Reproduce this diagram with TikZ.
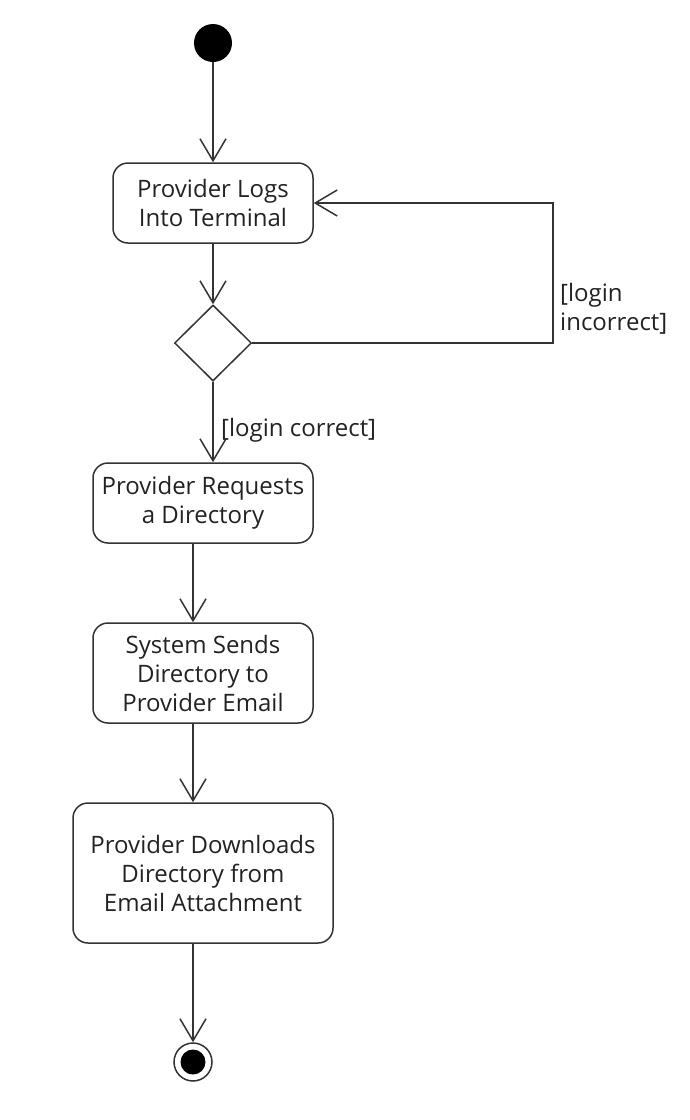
\documentclass[tikz,border=0pt]{standalone}
\usepackage{fontspec}
\setmainfont{Open Sans}
\usetikzlibrary{arrows.meta,shapes.geometric}
\definecolor{ln}{HTML}{333333}
\definecolor{tx}{HTML}{222222}
\begin{document}
\begin{tikzpicture}[x=1pt,y=-1pt,
  every node/.style={font=\fontsize{24}{29}\selectfont, text=tx},
  act/.style={draw=ln, line width=1.5pt, rounded corners=15pt, align=center, inner sep=0pt},
  flow/.style={draw=ln, line width=1.5pt, -{Straight Barb[length=22pt,width=26pt,line width=1.5pt]}},
  guard/.style={inner sep=0pt, align=left, anchor=west}]
\useasboundingbox (0,0) rectangle (690,1120);
\node[circle, fill=black, minimum size=38pt, inner sep=0pt] (start) at (213,43) {};
\node[act, minimum width=200pt, minimum height=80pt] (b1) at (213,203) {Provider Logs\\Into Terminal};
\node[diamond, draw=ln, line width=1.5pt, minimum width=77pt, minimum height=76pt, inner sep=0pt, fill=white] (dia) at (213,343) {};
\node[act, minimum width=220pt, minimum height=80pt] (b2) at (203,503) {Provider Requests\\a Directory};
\node[act, minimum width=220pt, minimum height=100pt] (b3) at (203,673) {System Sends\\Directory to\\Provider Email};
\node[act, minimum width=260pt, minimum height=140pt] (b4) at (203,873) {Provider Downloads\\Directory from\\Email Attachment};
\node[circle, draw=ln, line width=1.5pt, minimum size=38pt, inner sep=0pt] (end) at (193,1062) {};
\node[circle, fill=black, minimum size=25pt, inner sep=0pt] (endin) at (193,1062) {};
\coordinate (lc) at (553,203);
\draw[flow] (start) -- (b1);
\draw[flow] (b1) -- (dia);
\draw[flow] (dia.east) -| (lc) -- (b1.east);
\draw[flow] (dia.south) -- (dia.south |- b2.north);
\draw[flow] ([xshift=-10pt]b2.south) -- ([xshift=-10pt]b3.north);
\draw[flow] ([xshift=-10pt]b3.south) -- ([xshift=-10pt]b4.north);
\draw[flow] ([xshift=-10pt]b4.south) -- (end);
\node[guard] (gi) at (560,309) {[login\\incorrect]};
\node[guard] (gc) at (221,430) {[login correct]};
\end{tikzpicture}
\end{document}
